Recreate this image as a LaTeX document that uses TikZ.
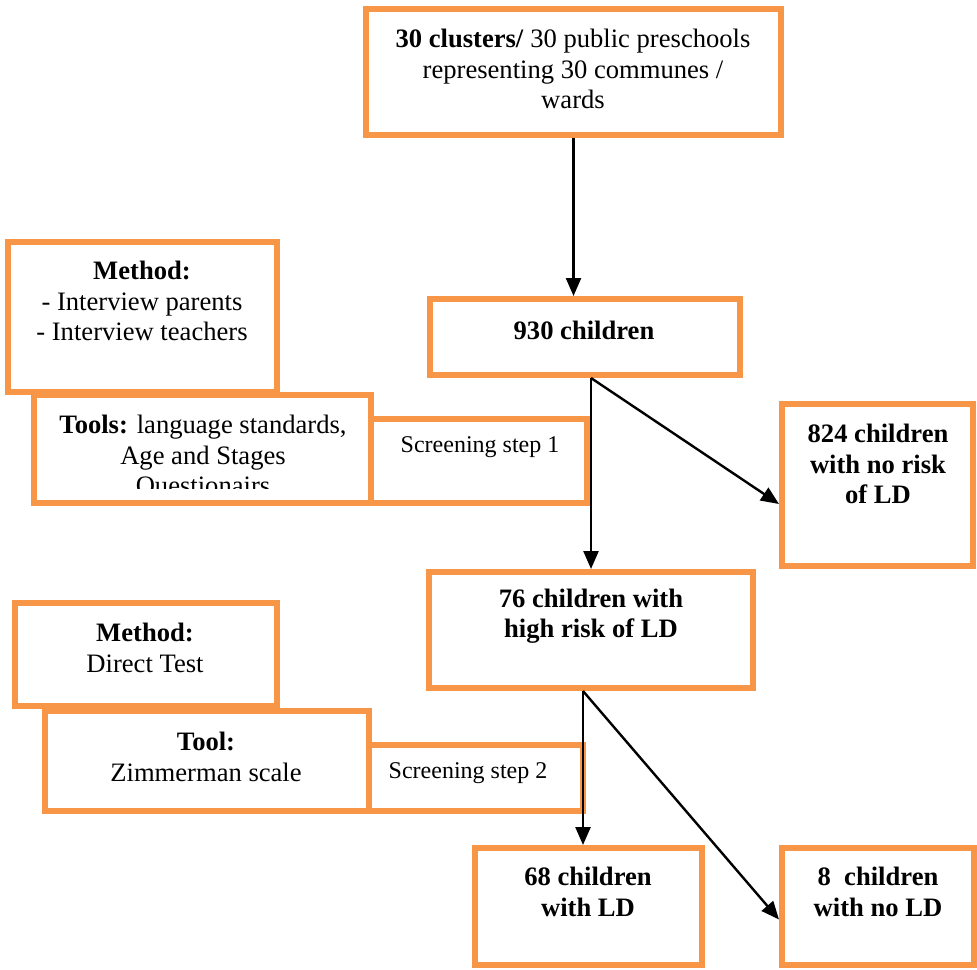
\documentclass[tikz,border=0pt]{standalone}
\usepackage{fontspec}
\setmainfont{Liberation Serif}
\usepackage{tikz}
\usetikzlibrary{fit}
\usetikzlibrary{arrows.meta}
\definecolor{boxorange}{HTML}{F79646}
\tikzset{
  box/.style={draw=boxorange,line width=3pt,fill=white,inner sep=0pt},
  txt/.style={align=center,inner sep=0pt,font=\fontsize{13.3}{15.25}\selectfont},
  smalltxt/.style={align=center,inner sep=0pt,font=\fontsize{12}{14}\selectfont},
  arr/.style={draw=black,line width=1.2pt,-{Triangle[length=9pt,width=7.5pt]}}
}
\begin{document}
\begin{tikzpicture}[x=0.5pt,y=-0.5pt]
  \useasboundingbox (0,0) rectangle (977,969);
  % main column
  \node[box,fit={(366,9) (781,135)}] (clusters) {};
  \node[box,fit={(430,299) (740,375)}] (n930) {};
  \node[box,fit={(782,404) (973,566)}] (n824) {};
  \node[box,fit={(429,572) (753,688)}] (n76) {};
  \node[box,fit={(475,848) (702,965)}] (n68) {};
  \node[box,fit={(782,848) (974,965)}] (n8) {};
  % step 1
  \node[box,fit={(8,242) (277,392)}] (method1) {};
  \node[box,fit={(34,395) (371,503)}] (tools1) {};
  \node[box,fit={(371,419) (587,503)}] (screen1) {};
  % step 2
  \node[box,fit={(15,603) (277,706)}] (method2) {};
  \node[box,fit={(45,711) (369,811)}] (tool2) {};
  \node[box,fit={(369,745) (583,811)}] (screen2) {};

  \node[txt] (clusterstxt) at (573,69) {\textbf{30 clusters/} 30 public preschools\\representing 30 communes /\\wards};
  \node[txt] (n930txt) at (584,330) {\textbf{930 children}};
  \node[txt] (n824txt) at (878,464) {\textbf{824 children}\\\textbf{with no risk}\\\textbf{of LD}};
  \node[txt] (n76txt) at (591,616) {\textbf{76 children with}\\\textbf{high risk of LD}};
  \node[txt] (n68txt) at (588,892) {\textbf{68 children}\\\textbf{with LD}};
  \node[txt] (n8txt) at (878,892) {\textbf{8\ \ children}\\\textbf{with no LD}};
  \node[txt] (method1txt) at (142,301) {\textbf{Method:}\\- Interview parents\\- Interview teachers};
  \begin{scope}
    \clip (37,398) rectangle (368,488);
    \node[txt] (tools1txt) at (203,457) {\textbf{Tools:} language standards,\\Age and Stages\\Questionairs};
  \end{scope}
  \node[smalltxt] (screen1txt) at (480,447) {Screening step 1};
  \node[txt] (method2txt) at (145,648) {\textbf{Method:}\\Direct Test};
  \node[txt] (tool2txt) at (206,757) {\textbf{Tool:}\\Zimmerman scale};
  \node[smalltxt] (screen2txt) at (468,773) {Screening step 2};

  % arrows
  \coordinate (split1) at ([xshift=3pt]n930.south);
  \coordinate (split2) at ([xshift=-4pt]n76.south);
  \draw[arr] (clusters.south) -- (clusters.south |- n930.north);
  \draw[arr] (split1) -- (split1 |- n76.north);
  \draw[arr] (split1) -- ([yshift=-9.5pt]n824.west);
  \draw[arr] (split2) -- (split2 |- n68.north);
  \draw[arr] (split2) -- ([yshift=-6.5pt]n8.west);
\end{tikzpicture}
\end{document}
